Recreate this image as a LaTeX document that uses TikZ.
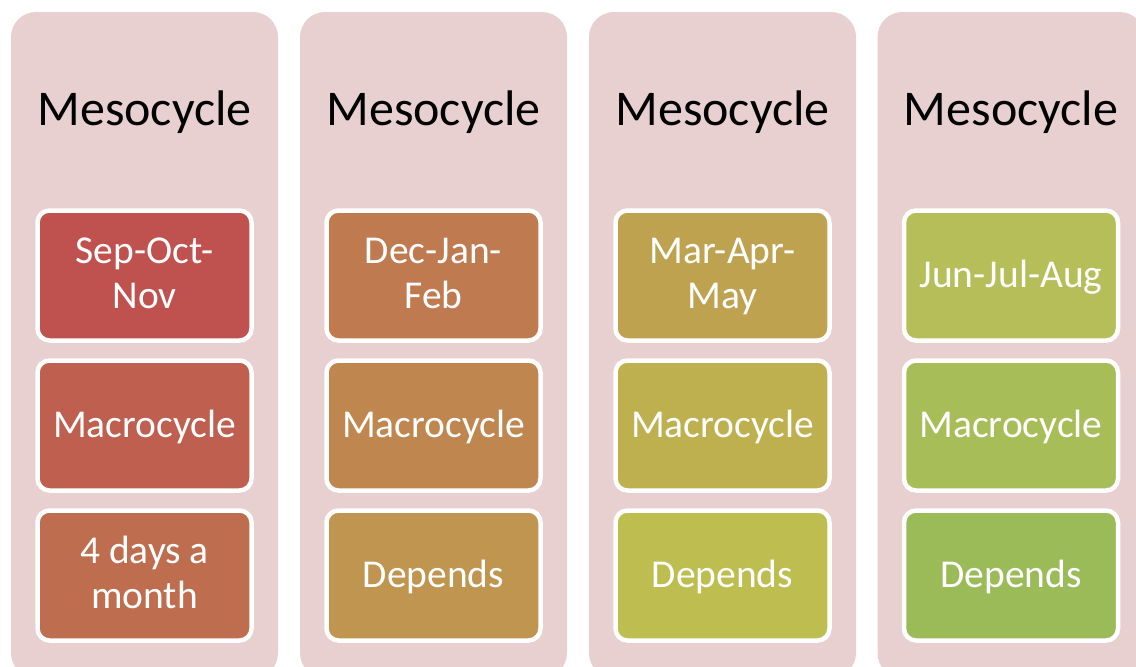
\documentclass[tikz,border=0pt]{standalone}
\usepackage{fontspec}
\setmainfont{Carlito}
\definecolor{colbg}{RGB}{232,208,209}
\definecolor{k0}{RGB}{191,82,79}
\definecolor{k1}{RGB}{191,95,79}
\definecolor{k2}{RGB}{191,109,79}
\definecolor{k3}{RGB}{191,122,79}
\definecolor{k4}{RGB}{191,135,79}
\definecolor{k5}{RGB}{191,149,79}
\definecolor{k6}{RGB}{191,162,79}
\definecolor{k7}{RGB}{191,176,79}
\definecolor{k8}{RGB}{189,189,80}
\definecolor{k9}{RGB}{181,190,88}
\definecolor{k10}{RGB}{167,189,88}
\definecolor{k11}{RGB}{155,187,89}
\newcommand\ls{\rule[-10.95pt]{0pt}{45pt}}
\tikzset{
  colbox/.style={fill=colbg, rounded corners=25pt, minimum width=267pt, minimum height=666pt, inner sep=0pt, draw=none},
  title/.style={font=\fontsize{50}{60}\selectfont, text=black, anchor=base, inner sep=0pt},
  cell/.style={draw=white, line width=4.5pt, rounded corners=12pt, minimum width=214pt, minimum height=130pt, inner sep=0pt, text=white, align=center, font=\fontsize{39.5}{45}\selectfont},
  twoline/.style={yshift=1.5pt},
}
\begin{document}
\begin{tikzpicture}[x=1pt,y=-1pt]
\useasboundingbox (0,0) rectangle (1136,667);
\clip (0,0) rectangle (1136,667);
\fill[white] (0,0) rectangle (1136,667);
\node[colbox] (c1) at (144.5,345) {};
\node[colbox] (c2) at (433.5,345) {};
\node[colbox] (c3) at (722.5,345) {};
\node[colbox] (c4) at (1011,345) {};
\node[title] (t1) at (144.5,125) {Mesocycle};
\node[title] (t2) at (433.5,125) {Mesocycle};
\node[title] (t3) at (722.5,125) {Mesocycle};
\node[title] (t4) at (1011,125) {Mesocycle};
\node[cell, fill=k0] (b11) at (144.5,275.5) {};
\node[cell, twoline, draw=none] (l11) at (144.5,275.5) {Sep-Oct-\ls\\Nov\ls};
\node[cell, fill=k1] (b12) at (144.5,425.5) {Macrocycle\ls};
\node[cell, fill=k2] (b13) at (144.5,575.5) {};
\node[cell, twoline, draw=none] (l13) at (144.5,575.5) {4 days a\ls\\month\ls};
\node[cell, fill=k3] (b21) at (433.5,275.5) {};
\node[cell, twoline, draw=none] (l21) at (433.5,275.5) {Dec-Jan-\ls\\Feb\ls};
\node[cell, fill=k4] (b22) at (433.5,425.5) {Macrocycle\ls};
\node[cell, fill=k5] (b23) at (433.5,575.5) {Depends\ls};
\node[cell, fill=k6] (b31) at (722.5,275.5) {};
\node[cell, twoline, draw=none] (l31) at (722.5,275.5) {Mar-Apr-\ls\\May\ls};
\node[cell, fill=k7] (b32) at (722.5,425.5) {Macrocycle\ls};
\node[cell, fill=k8] (b33) at (722.5,575.5) {Depends\ls};
\node[cell, fill=k9] (b41) at (1011,275.5) {Jun-Jul-Aug\ls};
\node[cell, fill=k10] (b42) at (1011,425.5) {Macrocycle\ls};
\node[cell, fill=k11] (b43) at (1011,575.5) {Depends\ls};
\end{tikzpicture}
\end{document}
